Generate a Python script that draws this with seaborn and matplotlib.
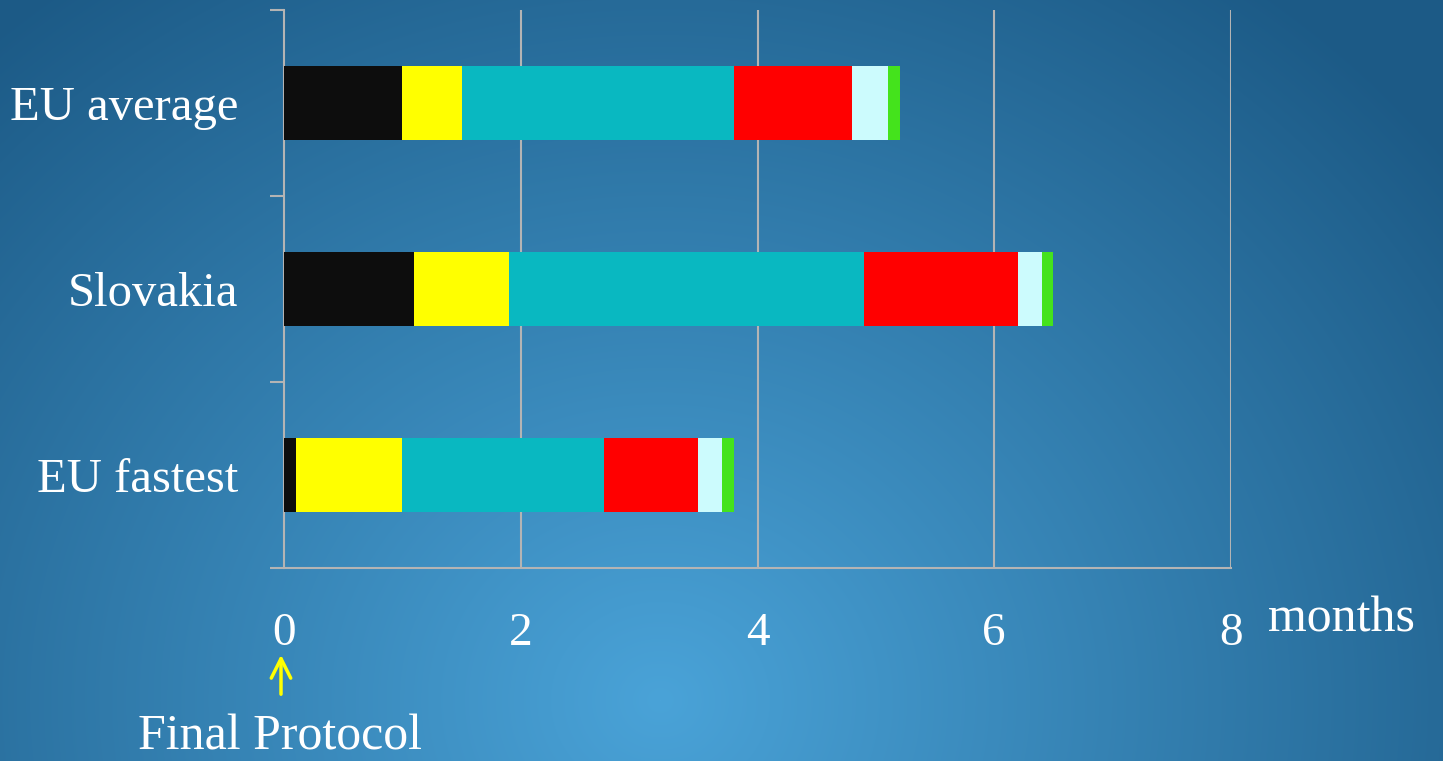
import numpy as np
import pandas as pd
import matplotlib
matplotlib.use("Agg")
import matplotlib.pyplot as plt
import seaborn as sns

categories = ["EU average", "Slovakia", "EU fastest"]
seg_black = [1.0, 1.1, 0.1]
seg_yellow = [0.5, 0.8, 0.9]
seg_teal = [2.3, 3.0, 1.7]
seg_red = [1.0, 1.3, 0.8]
seg_lightcyan = [0.3, 0.2, 0.2]
seg_green = [0.1, 0.1, 0.1]
x_ticks = [0, 2, 4, 6, 8]
x_tick_labels = ["0", "2", "4", "6", "8"]

segments = [seg_black, seg_yellow, seg_teal, seg_red, seg_lightcyan, seg_green]
colors = ["#0d0d0d", "#ffff00", "#09b8c1", "#ff0000", "#ccfbfd", "#44e31c"]

sns.set_style("white")
plt.rcParams['font.family'] = ['Liberation Serif', 'DejaVu Serif']

W, H = 1443, 761
fig = plt.figure(figsize=(W / 100, H / 100), dpi=100)

# radial gradient background
bg = fig.add_axes([0, 0, 1, 1], zorder=-10)
yy, xx = np.mgrid[0:H, 0:W]
cx, cy = 660, 700
d = np.sqrt(((xx - cx) / 1.0) ** 2 + ((yy - cy) / 0.9) ** 2)
t = np.clip(d / 1000.0, 0, 1)
c_in = np.array([0x4a, 0xa3, 0xd8]) / 255.0
c_out = np.array([0x1c, 0x5a, 0x86]) / 255.0
img = c_in[None, None, :] * (1 - t[..., None]) + c_out[None, None, :] * t[..., None]
bg.imshow(img, aspect='auto', extent=[0, W, H, 0])
bg.axis('off')

ax = fig.add_axes([284 / W, (H - 568) / H, (1231 - 284) / W, (568 - 10) / H])
ax.set_facecolor('none')

cum = np.cumsum(np.array(segments), axis=0)
df = pd.DataFrame({"category": categories})
for k in range(len(segments) - 1, -1, -1):
    df["v"] = cum[k]
    sns.barplot(data=df, x="v", y="category", orient="h", color=colors[k],
                saturation=1, width=0.4, errorbar=None, linewidth=0, ax=ax, zorder=3)

ax.set_xlim(0, 8)
ax.set_ylim(2.5, -0.5)
ax.set_xlabel("")
ax.set_ylabel("")

gc = "#b4b4b4"
for x in x_ticks[1:]:
    ax.axvline(x, color=gc, lw=1.5, zorder=1)
for s in ["top", "right"]:
    ax.spines[s].set_visible(False)
for s in ["left", "bottom"]:
    ax.spines[s].set_color(gc)
    ax.spines[s].set_linewidth(1.5)

ax.set_xticks(x_ticks)
ax.set_xticklabels(x_tick_labels)
ax.tick_params(axis='x', length=10, width=1.5, color=gc, pad=22, labelsize=34, labelcolor='white')
ax.set_yticks([0, 1, 2])
ax.set_yticklabels(categories)
ax.set_yticks([-0.5, 0.5, 1.5, 2.5], minor=True)
ax.tick_params(axis='y', which='major', length=0, pad=33, labelsize=35, labelcolor='white')
ax.tick_params(axis='y', which='minor', length=10, width=1.5, color=gc, left=True)

fig.text(1268 / W, (H - 632) / H, "months", fontsize=36, color='white', ha='left', va='baseline')
fig.text(280 / W, (H - 750) / H, "Final Protocol", fontsize=36, color='white', ha='center', va='baseline')
ax.annotate("", xy=(281, H - 652), xycoords='figure pixels',
            xytext=(281, H - 697), textcoords='figure pixels',
            arrowprops=dict(arrowstyle='->,head_length=1.4,head_width=0.7', color='#ffff00', lw=2.5))

fig.savefig("out.png", dpi=100)
